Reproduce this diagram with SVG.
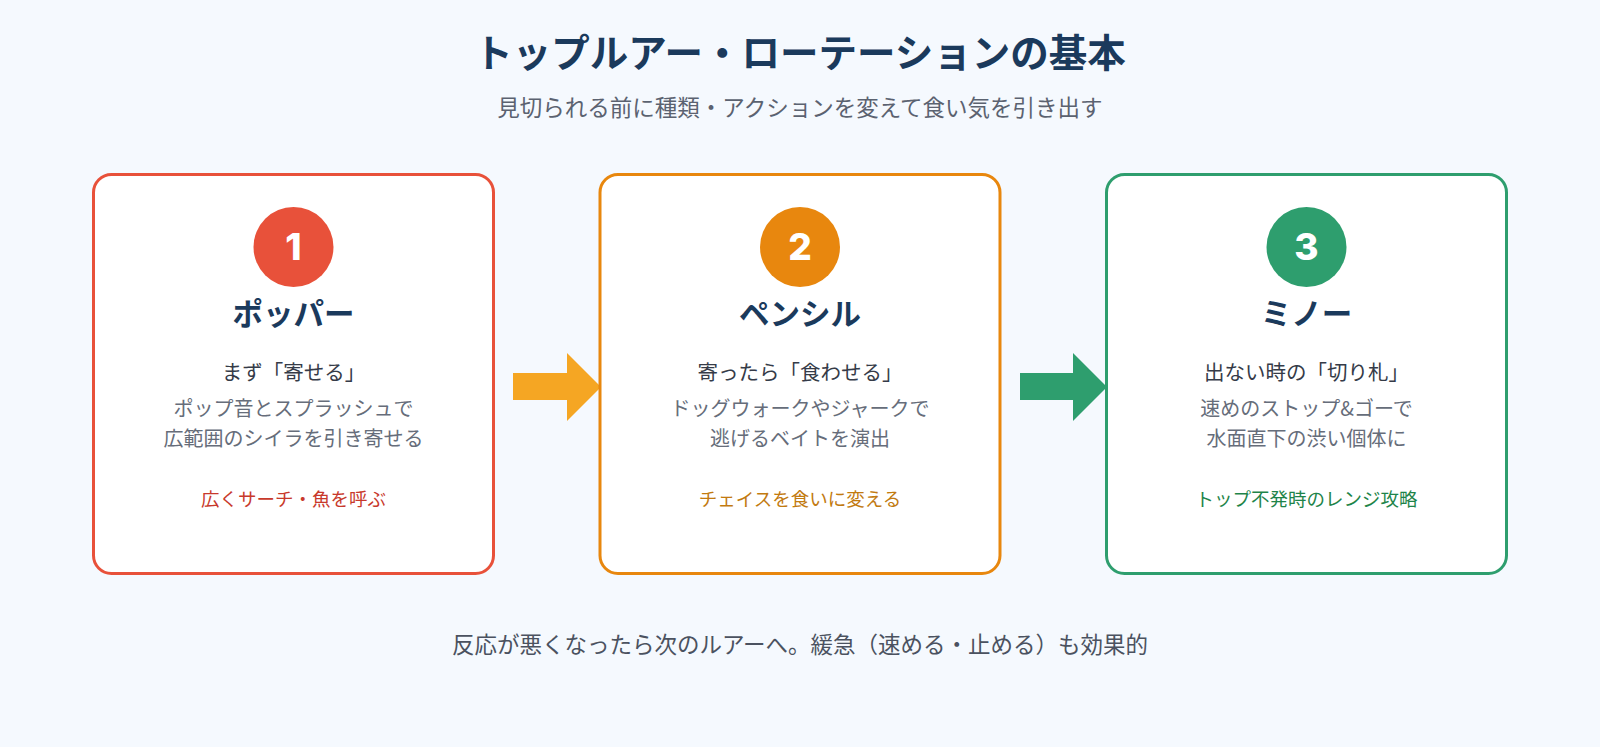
<svg xmlns="http://www.w3.org/2000/svg" width="1600" height="747" viewBox="0 0 1600 747">
  <style>
    text { font-family: "Noto Sans CJK JP", "Noto Sans", sans-serif; text-anchor: middle; }
    .title { font-size: 38.5px; font-weight: 700; fill: #1b3a5c; }
    .subtitle { font-size: 22.5px; fill: #5b6270; }
    .footer { font-size: 22.5px; fill: #4b5260; }
    .card { fill: #ffffff; stroke-width: 3; }
    .num { font-family: "Inter", "Noto Sans", sans-serif; font-size: 37px; font-weight: 800; fill: #ffffff; }
    .head { font-size: 30.5px; font-weight: 700; fill: #1b3a5c; }
    .lead { font-size: 20.5px; font-weight: 400; fill: #353b48; }
    .desc { font-size: 20px; font-weight: 400; fill: #666d7a; }
    .tag { font-size: 18.5px; font-weight: 400; }
  </style>
  <rect x="0" y="0" width="1600" height="747" fill="#f5f9fe"/>
  <text class="title" x="800" y="67">トップルアー・ローテーションの基本</text>
  <text class="subtitle" x="800" y="116">見切られる前に種類・アクションを変えて食い気を引き出す</text>

  <g id="connectors">
    <polygon points="513,373 567,373 567,353 601,387 567,421 567,400 513,400" fill="#f5a623"/>
    <polygon points="1020,373 1073,373 1073,353 1107,387 1073,421 1073,400 1020,400" fill="#2e9e6e"/>
  </g>

  <g id="node-popper">
    <rect class="card" x="93.5" y="174.5" width="400" height="399" rx="18" stroke="#e8513a"/>
    <circle cx="293.5" cy="247" r="40" fill="#e8513a"/>
    <text class="num" x="293.5" y="260">1</text>
    <text class="head" x="293.5" y="325">ポッパー</text>
    <text class="lead" x="293.5" y="380">まず「寄せる」</text>
    <text class="desc" x="293.5" y="416">ポップ音とスプラッシュで</text>
    <text class="desc" x="293.5" y="446">広範囲のシイラを引き寄せる</text>
    <text class="tag" x="293.5" y="506" fill="#c8392b">広くサーチ・魚を呼ぶ</text>
  </g>

  <g id="node-pencil">
    <rect class="card" x="600" y="174.5" width="400" height="399" rx="18" stroke="#e8870e"/>
    <circle cx="800" cy="247" r="40" fill="#e8870e"/>
    <text class="num" x="800" y="260">2</text>
    <text class="head" x="800" y="325">ペンシル</text>
    <text class="lead" x="800" y="380">寄ったら「食わせる」</text>
    <text class="desc" x="800" y="416">ドッグウォークやジャークで</text>
    <text class="desc" x="800" y="446">逃げるベイトを演出</text>
    <text class="tag" x="800" y="506" fill="#c27a10">チェイスを食いに変える</text>
  </g>

  <g id="node-minnow">
    <rect class="card" x="1106.5" y="174.5" width="400" height="399" rx="18" stroke="#2e9e6e"/>
    <circle cx="1306.5" cy="247" r="40" fill="#2e9e6e"/>
    <text class="num" x="1306.5" y="260">3</text>
    <text class="head" x="1306.5" y="325">ミノー</text>
    <text class="lead" x="1306.5" y="380">出ない時の「切り札」</text>
    <text class="desc" x="1306.5" y="416">速めのストップ&amp;ゴーで</text>
    <text class="desc" x="1306.5" y="446">水面直下の渋い個体に</text>
    <text class="tag" x="1306.5" y="506" fill="#1e8449">トップ不発時のレンジ攻略</text>
  </g>

  <text class="footer" x="800" y="653">反応が悪くなったら次のルアーへ。緩急（速める・止める）も効果的</text>
</svg>
